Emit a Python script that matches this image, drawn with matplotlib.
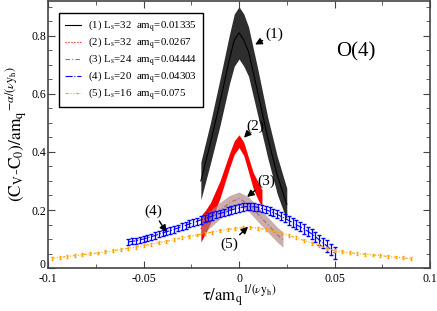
import numpy as np
import matplotlib.pyplot as plt
from matplotlib.ticker import MultipleLocator

plt.rcParams['font.family'] = 'Liberation Serif'
plt.rcParams['mathtext.fontset'] = 'stix'

# (1) Ls=32 amq=0.01335  -- band
x1 = [-0.02, -0.015, -0.01, -0.005, -0.0025, 0.0, 0.0025, 0.005, 0.01, 0.015, 0.02, 0.025]
y1 = [0.30, 0.43, 0.57, 0.72, 0.785, 0.81, 0.785, 0.745, 0.60, 0.45, 0.32, 0.22]
e1 = [0.065, 0.07, 0.08, 0.085, 0.09, 0.09, 0.09, 0.085, 0.08, 0.07, 0.065, 0.055]

# (2) Ls=32 amq=0.0267  -- band
x2 = [-0.02, -0.0175, -0.015, -0.01, -0.005, -0.0025, 0.0, 0.0025, 0.005, 0.0075, 0.01, 0.012]
y2 = [0.135, 0.16, 0.19, 0.27, 0.37, 0.415, 0.437, 0.41, 0.355, 0.30, 0.265, 0.24]
e2 = [0.045, 0.04, 0.035, 0.03, 0.025, 0.023, 0.022, 0.023, 0.025, 0.028, 0.03, 0.03]

# (3) Ls=24 amq=0.04444  -- band
x3 = [-0.02, -0.015, -0.01, -0.005, 0.0, 0.005, 0.01, 0.015, 0.02, 0.023]
y3 = [0.145, 0.17, 0.198, 0.225, 0.24, 0.22, 0.185, 0.15, 0.115, 0.098]
e3 = [0.03, 0.03, 0.028, 0.025, 0.022, 0.025, 0.026, 0.026, 0.026, 0.026]

# (4) Ls=20 amq=0.04303  -- points with error bars, dx = 0.002 from -0.058
y4 = [0.090, 0.092, 0.094, 0.097, 0.100, 0.104, 0.108, 0.112, 0.117, 0.121,
      0.125, 0.129, 0.133, 0.138, 0.142, 0.147, 0.152, 0.156, 0.161, 0.166,
      0.170, 0.175, 0.179, 0.184, 0.188, 0.192, 0.196, 0.200, 0.204, 0.207,
      0.210, 0.212, 0.212, 0.211, 0.209, 0.205, 0.201, 0.196, 0.191, 0.185,
      0.178, 0.171, 0.164, 0.157, 0.149, 0.142, 0.135, 0.127, 0.118, 0.108,
      0.097, 0.087, 0.076, 0.064, 0.052]
e4 = [0.010, 0.010, 0.010, 0.010, 0.010, 0.011, 0.011, 0.011, 0.011, 0.011,
      0.012, 0.012, 0.012, 0.012, 0.012, 0.012, 0.012, 0.012, 0.013, 0.013,
      0.013, 0.013, 0.013, 0.013, 0.013, 0.013, 0.013, 0.013, 0.013, 0.013,
      0.013, 0.013, 0.013, 0.013, 0.013, 0.013, 0.013, 0.013, 0.013, 0.014,
      0.014, 0.014, 0.014, 0.015, 0.015, 0.015, 0.016, 0.016, 0.017, 0.017,
      0.018, 0.018, 0.019, 0.019, 0.020]
x4 = -0.058 + 0.002 * np.arange(len(y4))

# (5) Ls=16 amq=0.075  -- points with error bars, dx = 0.004 from -0.098
y5 = [0.034, 0.036, 0.040, 0.043, 0.046, 0.049, 0.052, 0.056, 0.060, 0.064,
      0.068, 0.072, 0.077, 0.082, 0.087, 0.092, 0.098, 0.104, 0.109, 0.114,
      0.119, 0.124, 0.129, 0.133, 0.136, 0.139, 0.140, 0.137, 0.133, 0.127,
      0.120, 0.112, 0.104, 0.095, 0.086, 0.077, 0.068, 0.060, 0.056, 0.053,
      0.050, 0.048, 0.045, 0.043, 0.040, 0.038, 0.035, 0.032]
e5 = 0.005
x5 = -0.098 + 0.004 * np.arange(len(y5))

labels = [r'(1) L$_\mathrm{s}$=32  am$_\mathrm{q}$=0.01335',
          r'(2) L$_\mathrm{s}$=32  am$_\mathrm{q}$=0.0267',
          r'(3) L$_\mathrm{s}$=24  am$_\mathrm{q}$=0.04444',
          r'(4) L$_\mathrm{s}$=20  am$_\mathrm{q}$=0.04303',
          r'(5) L$_\mathrm{s}$=16  am$_\mathrm{q}$=0.075']

fig, ax = plt.subplots(figsize=(4.37, 3.11), dpi=100)
fig.subplots_adjust(left=0.110, right=0.984, bottom=0.138, top=0.997)

y1, e1 = np.array(y1), np.array(e1)
ax.fill_between(x1, y1 - e1, y1 + e1, color='#2e2e2e', lw=0)
ax.plot(x1, y1, color='k', lw=0.8, label=labels[0])

y2, e2 = np.array(y2), np.array(e2)
ax.fill_between(x2, y2 - e2, y2 + e2, color='#ff0000', lw=0)
ax.plot(x2, y2, color='#ff0000', lw=0.8, ls=':', label=labels[1])

y3, e3 = np.array(y3), np.array(e3)
ax.fill_between(x3, y3 - e3, y3 + e3, color='#b08282', alpha=0.65, lw=0)
ax.plot(x3, y3, color='#a07070', lw=0.8, ls=(0, (4, 2, 1, 2)), label=labels[2])

ax.errorbar(x4, y4, yerr=e4, fmt='none', ecolor='#0000ff', elinewidth=0.9, capsize=1.2)
ax.plot(x4, y4, color='#0000ff', lw=0.8, ls='-.', label=labels[3])

ax.errorbar(x5, y5, yerr=e5, fmt='none', ecolor='#ffa500', elinewidth=0.9, capsize=1.0)
ax.plot(x5, y5, color='#ffa500', lw=0.8, ls=(0, (3, 1.5, 1, 1.5, 1, 1.5)), label=labels[4])

ax.set_xlim(-0.1, 0.1)
ax.set_ylim(0, 0.92)
ax.set_xticks([-0.1, -0.05, 0, 0.05, 0.1])
ax.set_xticklabels(['-0.1', '-0.05', '0', '0.05', '0.1'])
ax.set_yticks([0, 0.2, 0.4, 0.6, 0.8])
ax.set_yticklabels(['0', '0.2', '0.4', '0.6', '0.8'])
ax.get_yticklabels()[0].set_verticalalignment('baseline')
ax.xaxis.set_minor_locator(MultipleLocator(0.025))
ax.yaxis.set_minor_locator(MultipleLocator(0.05))
ax.tick_params(which='both', direction='in', top=True, right=True, labelsize=8.5, color='#444444')
ax.tick_params(which='major', length=5)
ax.tick_params(axis='x', which='major', pad=3.5)
ax.tick_params(axis='y', which='major', pad=1.5)
ax.tick_params(which='minor', length=3)
for s in ax.spines.values():
    s.set_linewidth(1.2)
    s.set_color('#444444')

ax.set_xlabel(r'$\mathrm{\tau/am_q}^{1/(\nu \mathrm{y_h})}$', fontsize=12, labelpad=-1)
ax.set_ylabel(r'$(\mathrm{C_V}$-$\mathrm{C_0})/\mathrm{am_q}^{-\alpha/(\nu \mathrm{y_h})}$', fontsize=12.5, labelpad=1)

ax.text(0.0508, 0.743, 'O(4)', fontsize=15, va='center', ha='left')

arrow = dict(arrowstyle='-|>', color='k', lw=1.0, mutation_scale=10, shrinkA=0, shrinkB=0)
ax.annotate('(1)', xy=(0.0084, 0.77), xytext=(0.0185, 0.805), ha='center', va='center', fontsize=11, arrowprops=arrow)
ax.annotate('(2)', xy=(0.0026, 0.449), xytext=(0.0085, 0.49), ha='center', va='center', fontsize=11, arrowprops=arrow)
ax.annotate('(3)', xy=(0.0042, 0.245), xytext=(0.0145, 0.30), ha='center', va='center', fontsize=11, arrowprops=arrow)
ax.annotate('(4)', xy=(-0.038, 0.124), xytext=(-0.045, 0.195), ha='center', va='center', fontsize=11, arrowprops=arrow)
ax.annotate('(5)', xy=(0.0047, 0.142), xytext=(-0.005, 0.082), ha='center', va='center', fontsize=11, arrowprops=arrow)

ax.legend(loc='upper left', bbox_to_anchor=(0.029, 0.955), fontsize=7.8, frameon=True, fancybox=False,
          edgecolor='k', framealpha=1, borderaxespad=0, handlelength=1.5, labelspacing=0.08,
          borderpad=0.5, handletextpad=0.7)

plt.savefig('out.png', dpi=100)
